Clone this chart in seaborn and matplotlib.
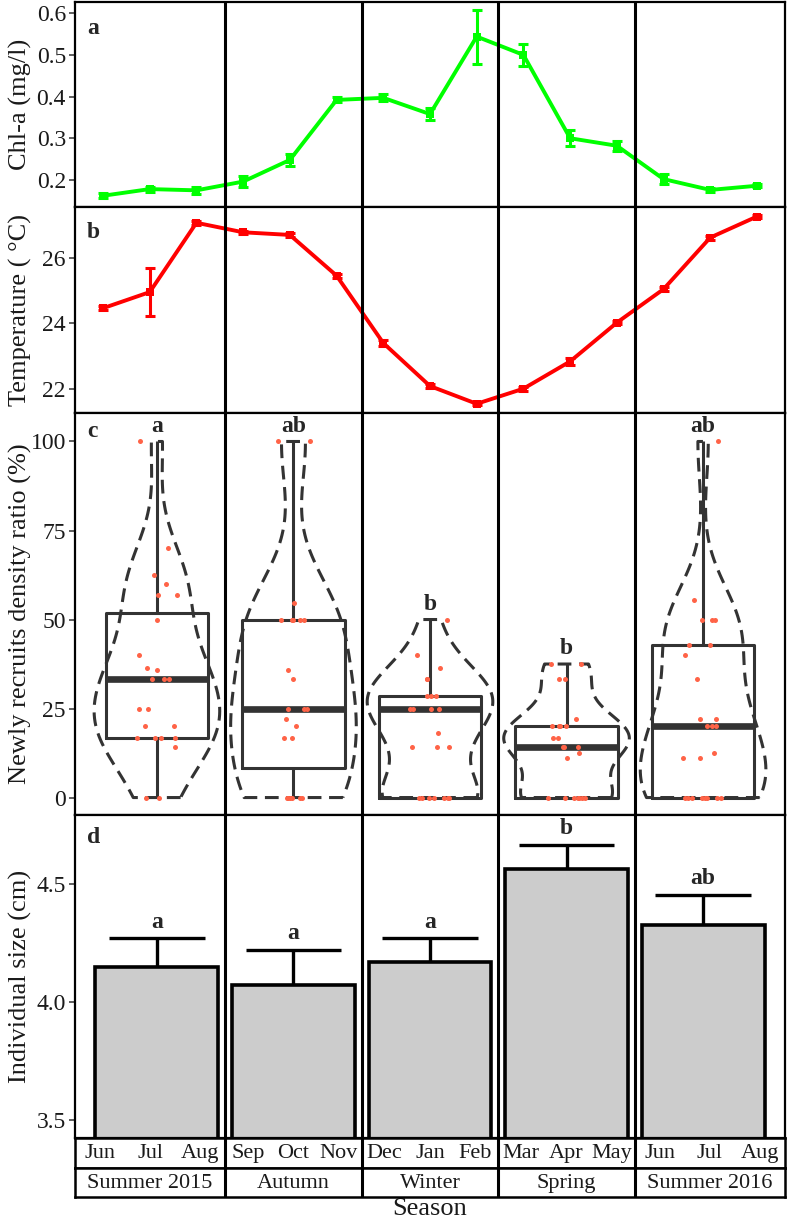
import numpy as np
import pandas as pd
import matplotlib
matplotlib.use('Agg')
import matplotlib.pyplot as plt
import seaborn as sns

sns.set_theme(style='white')
plt.rcParams['font.family'] = ['Liberation Serif', 'DejaVu Serif']

# ---------------- data ----------------
months = ['Jun', 'Jul', 'Aug', 'Sep', 'Oct', 'Nov', 'Dec', 'Jan', 'Feb',
          'Mar', 'Apr', 'May', 'Jun', 'Jul', 'Aug']
seasons = ['Summer 2015', 'Autumn', 'Winter', 'Spring', 'Summer 2016']

chl_mean = [0.162, 0.178, 0.175, 0.196, 0.248, 0.392, 0.397, 0.358, 0.544,
            0.500, 0.300, 0.282, 0.202, 0.176, 0.186]
chl_se = [0.006, 0.006, 0.008, 0.014, 0.015, 0.006, 0.008, 0.014, 0.065,
          0.027, 0.019, 0.012, 0.012, 0.004, 0.004]

temp_mean = [24.46, 24.95, 27.06, 26.77, 26.69, 25.45, 23.40, 22.09, 21.55,
             22.01, 22.84, 24.02, 25.04, 26.61, 27.25]
temp_se = [0.06, 0.72, 0.06, 0.05, 0.05, 0.06, 0.10, 0.06, 0.04,
           0.06, 0.10, 0.05, 0.06, 0.06, 0.04]

ratio_summer2015 = [100, 70, 62.5, 60, 57, 57, 50, 40, 36.4, 35.7, 33.3, 33.3,
                    33.3, 25, 25, 20, 20, 16.7, 16.7, 16.7, 16.7, 14.3, 0, 0]
ratio_autumn = [100, 100, 54.5, 50, 50, 50, 50, 50, 35.7, 33.3, 25, 25, 25,
                22, 20, 16.7, 16.7, 0, 0, 0, 0, 0, 0]
ratio_winter = [50, 40, 36.4, 33.3, 33.3, 28.6, 28.6, 28.6, 25, 25, 25, 25,
                18.2, 14.3, 14.3, 14.3, 0, 0, 0, 0, 0, 0, 0]
ratio_spring = [37.5, 37.5, 33.3, 33.3, 22.2, 20, 20, 20, 20, 16.7, 16.7,
                14.3, 14.3, 14.3, 12.5, 11.1, 0, 0, 0, 0, 0, 0, 0]
ratio_summer2016 = [100, 55.6, 50, 50, 50, 42.9, 42.9, 40, 33.3, 22.2, 22.2,
                    20, 20, 20, 12.5, 11.1, 11.1, 0, 0, 0, 0, 0, 0, 0, 0]
ratio_letters = ['a', 'ab', 'b', 'b', 'ab']

size_mean = [4.151, 4.072, 4.172, 4.565, 4.328]
size_se = [0.120, 0.149, 0.099, 0.103, 0.127]
size_letters = ['a', 'a', 'a', 'b', 'ab']

# ---------------- layout ----------------
FW, FH = 787, 1221
fig = plt.figure(figsize=(FW / 100, FH / 100), dpi=100)
L, R = 75, 785


def rect(top, bot):
    return [L / FW, 1 - bot / FH, (R - L) / FW, (bot - top) / FH]


axa = fig.add_axes(rect(2, 207))
axb = fig.add_axes(rect(207, 413))
axc = fig.add_axes(rect(413, 815))
axd = fig.add_axes(rect(815, 1138))
axm = fig.add_axes(rect(1138, 1168))
axs = fig.add_axes(rect(1168, 1197))

MX = (-0.6, len(months) - 0.4)
SX = (-0.6, len(seasons) - 0.4)
bounds_s = [0.5, 1.5, 2.5, 3.5]


def s_to_m(b):
    return MX[0] + (b - SX[0]) / (SX[1] - SX[0]) * (MX[1] - MX[0])


bounds_m = [s_to_m(b) for b in bounds_s]
EDGE = 'black'
SEP_LW = 2.2
TICK_FS = 17
LAB_FS = 19


def style(ax):
    for sp in ax.spines.values():
        sp.set_color(EDGE)
        sp.set_linewidth(1.6)
        sp.set_visible(True)
    ax.grid(False)
    ax.set_facecolor('white')
    ax.tick_params(axis='y', left=True, length=4, width=1.1, color='#333333',
                   pad=2.5, labelsize=TICK_FS, labelcolor='#1a1a1a')
    ax.tick_params(axis='x', bottom=False, labelbottom=False)
    ax.set_xlabel('')


month_x = np.arange(len(months))

# ---- panel a ----
sns.lineplot(x=month_x, y=chl_mean, color='#00FF00', lw=2.8, marker='s',
             markersize=6, markeredgewidth=0, ax=axa)
axa.errorbar(month_x, chl_mean, yerr=chl_se, fmt='none', ecolor='#00FF00',
             elinewidth=2.2, capsize=3.5, capthick=2.2)
axa.set_xlim(*MX)
axa.set_ylim(0.135, 0.627)
axa.set_yticks([0.2, 0.3, 0.4, 0.5, 0.6])
style(axa)
axa.set_ylabel('Chl-a (mg/l)', fontsize=LAB_FS)
for b in bounds_m:
    axa.axvline(b, color=EDGE, lw=SEP_LW)

# ---- panel b ----
sns.lineplot(x=month_x, y=temp_mean, color='#FF0000', lw=2.8, marker='s',
             markersize=6, markeredgewidth=0, ax=axb)
axb.errorbar(month_x, temp_mean, yerr=temp_se, fmt='none', ecolor='#FF0000',
             elinewidth=2.2, capsize=3.5, capthick=2.2)
axb.set_xlim(*MX)
axb.set_ylim(21.27, 27.54)
axb.set_yticks([22, 24, 26])
style(axb)
axb.set_ylabel('Temperature ( °C)', fontsize=LAB_FS)
for b in bounds_m:
    axb.axvline(b, color=EDGE, lw=SEP_LW)

# ---- panel c ----
groups = [ratio_summer2015, ratio_autumn, ratio_winter, ratio_spring,
          ratio_summer2016]
df = pd.DataFrame({'season': np.repeat(seasons, [len(g) for g in groups]),
                   'ratio': np.concatenate(groups)})
n0 = len(axc.collections)
sns.violinplot(data=df, x='season', y='ratio', order=seasons, fill=False,
               inner=None, cut=0, density_norm='width', width=0.92,
               color='#333333', linewidth=2.2, bw_method='silverman',
               bw_adjust=0.85, ax=axc)
for coll in axc.collections[n0:]:
    coll.set_linestyle((0, (4.5, 2.5)))
sns.boxplot(data=df, x='season', y='ratio', order=seasons, fill=False,
            color='#333333', width=0.75, linewidth=2.2, showfliers=False,
            showcaps=False, whis=1.5, medianprops={'linewidth': 4.8}, ax=axc)
np.random.seed(7)
sns.stripplot(data=df, x='season', y='ratio', order=seasons, color='#FF6347',
              size=3.6, jitter=0.15, linewidth=0, ax=axc, zorder=5)
for i, g in enumerate(groups):
    axc.text(i, max(g) + 2.8, ratio_letters[i], ha='center', va='baseline',
             fontsize=17, fontweight='bold')
axc.set_xlim(*SX)
axc.set_ylim(-4.9, 108)
axc.set_yticks([0, 25, 50, 75, 100])
style(axc)
axc.set_ylabel('Newly recruits density ratio (%)', fontsize=LAB_FS)
for b in bounds_s:
    axc.axvline(b, color=EDGE, lw=SEP_LW)

# ---- panel d ----
sns.barplot(x=seasons, y=size_mean, order=seasons, color='#CCCCCC',
            saturation=1, edgecolor='black', linewidth=2.6, width=0.9,
            errorbar=None, ax=axd)
pos = np.arange(len(seasons))
tops = np.add(size_mean, size_se)
axd.vlines(pos, size_mean, tops, color='black', lw=2.4, zorder=3)
axd.hlines(tops, pos - 0.35, pos + 0.35, color='black', lw=2.4, zorder=3)
for i in range(len(seasons)):
    axd.text(i, tops[i] + 0.045, size_letters[i], ha='center', va='baseline',
             fontsize=17, fontweight='bold')
axd.set_xlim(*SX)
axd.set_ylim(3.424, 4.794)
axd.set_yticks([3.5, 4.0, 4.5])
style(axd)
axd.set_ylabel('Individual size (cm)', fontsize=LAB_FS)
for b in bounds_s:
    axd.axvline(b, color=EDGE, lw=SEP_LW)

# panel letters
for ax, lab, yy in [(axa, 'a', 0.873), (axb, 'b', 0.878), (axc, 'c', 0.955),
                    (axd, 'd', 0.929)]:
    ax.text(0.017, yy, lab, transform=ax.transAxes, ha='left', va='center',
            fontsize=17, fontweight='bold')

for ax in (axa, axb, axc, axd):
    ax.yaxis.set_label_coords(-0.06, 0.5)
    ax.yaxis.label.set_color('#1a1a1a')

# ---- month / season strips ----
for ax in (axm, axs):
    ax.set_xlim(*SX)
    ax.set_ylim(0, 1)
    for sp in ax.spines.values():
        sp.set_color(EDGE)
        sp.set_linewidth(1.8)
        sp.set_visible(True)
    ax.set_xticks([])
    ax.set_yticks([])
    ax.grid(False)
    for b in bounds_s:
        ax.axvline(b, color=EDGE, lw=SEP_LW)

edges = [SX[0]] + bounds_s + [SX[1]]
for i, m in enumerate(months):
    si, k = divmod(i, 3)
    left, right = edges[si], edges[si + 1]
    xm = left + (k + 0.5) / 3 * (right - left)
    axm.text(xm, 0.47, m, ha='center', va='center', fontsize=16,
             color='#1a1a1a')
for i, s in enumerate(seasons):
    axs.text((edges[i] + edges[i + 1]) / 2, 0.47, s, ha='center',
             va='center', fontsize=16, color='#1a1a1a')
axs.set_xlabel('Season', fontsize=LAB_FS, labelpad=1, color='#1a1a1a')

fig.savefig('out.png', dpi=100)
